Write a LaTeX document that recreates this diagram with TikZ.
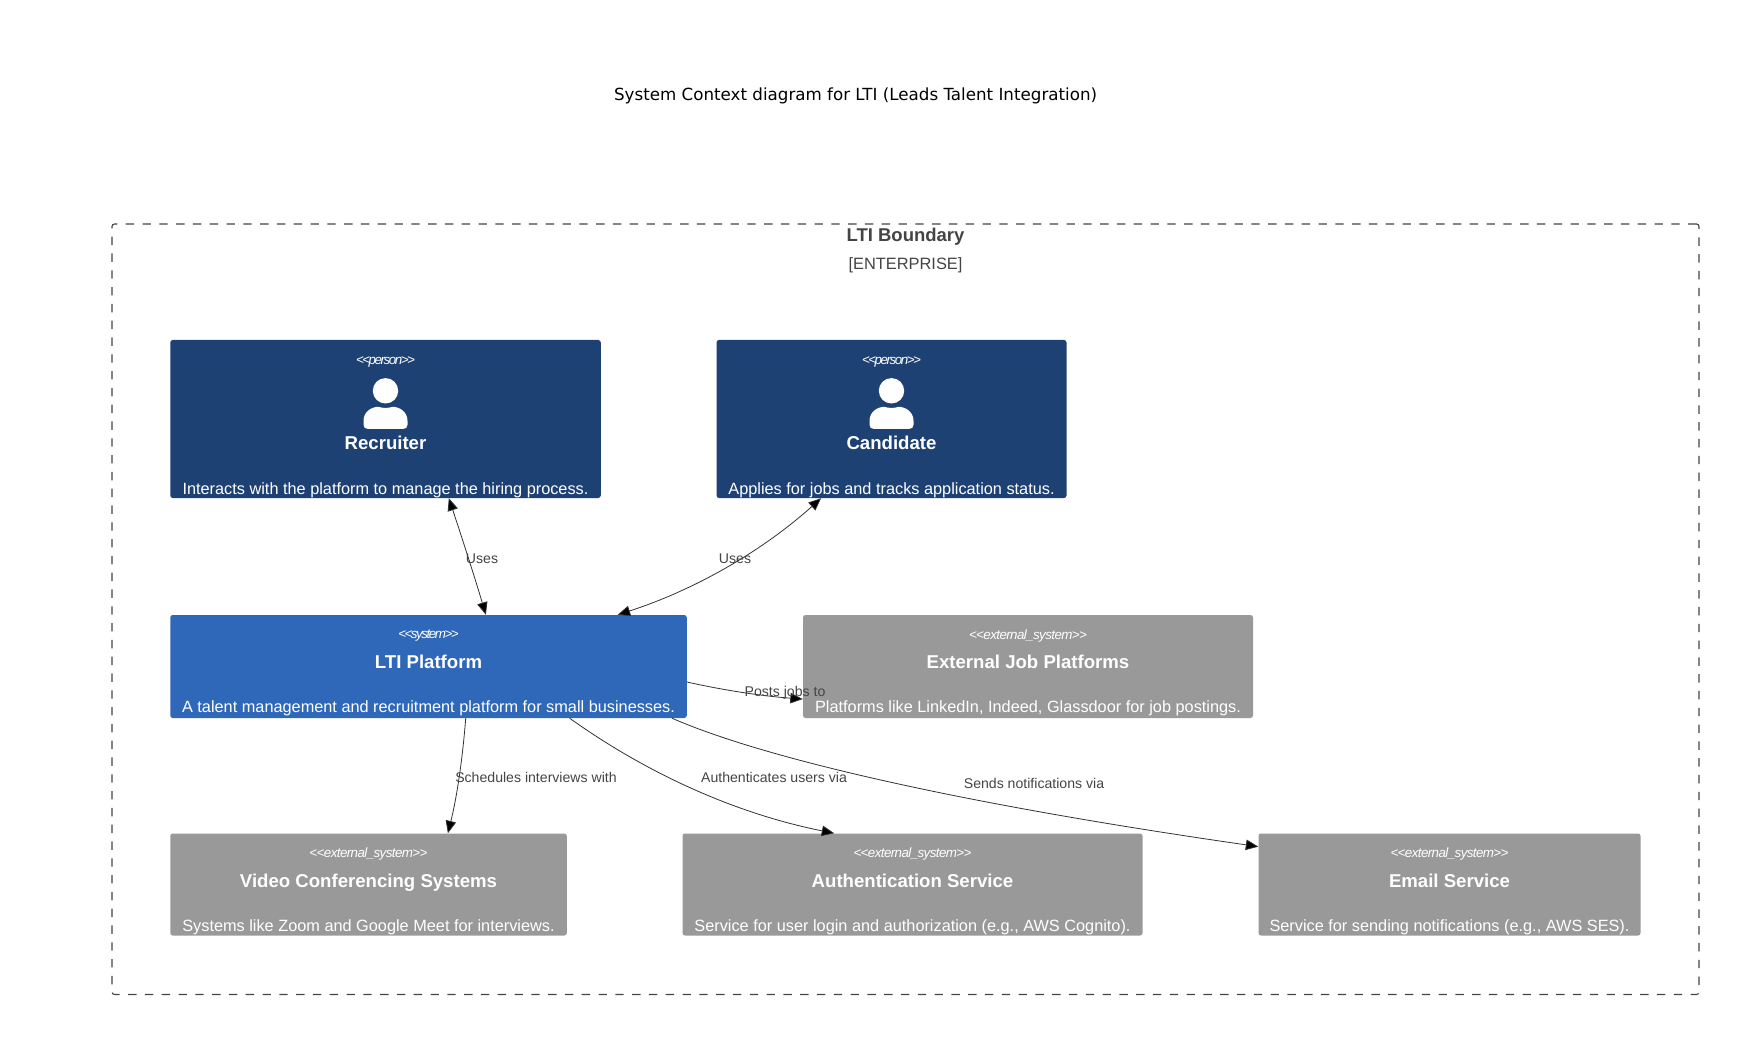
\documentclass[tikz,border=0pt]{standalone}
\usepackage{fontspec}
\setmainfont{Liberation Sans}
\newfontfamily\titlefont{DejaVu Sans}
\newfontfamily\stereofont[LetterSpace=-11.0]{Liberation Sans}
\newfontfamily\extstereofont[LetterSpace=-4.5]{Liberation Sans}
\usetikzlibrary{calc,arrows.meta}
\definecolor{personblue}{HTML}{1E4174}
\definecolor{systemblue}{HTML}{2F67B9}
\definecolor{extgray}{HTML}{999999}
\definecolor{inkgray}{HTML}{444444}
\tikzset{
  c4box/.style={rounded corners=2.5pt,inner sep=0pt,minimum height=102pt},
  personbox/.style={c4box,fill=personblue,minimum height=158pt},
  systembox/.style={c4box,fill=systemblue,minimum height=103pt},
  extbox/.style={c4box,fill=extgray},
  stereotext/.style={text=white,font=\stereofont\itshape\fontsize{13.4}{15}\selectfont},
  extstereotext/.style={text=white,font=\extstereofont\itshape\fontsize{13.4}{15}\selectfont},
  nametext/.style={text=white,font=\bfseries\fontsize{18.6}{21}\selectfont},
  desctext/.style={text=white,font=\fontsize{16.3}{19}\selectfont},
  reltext/.style={text=inkgray,font=\fontsize{14.1}{16}\selectfont},
  rel/.style={draw=black!80,line width=.8pt,-{Triangle[length=12.5pt,width=10.5pt,fill=black]}},
  birel/.style={rel,{Triangle[length=12.5pt,width=10.5pt,fill=black]}-{Triangle[length=12.5pt,width=10.5pt,fill=black]}},
  pics/personicon/.style={code={
    \fill[white] (0,0) circle (12.7);
    \fill[white] (-22,30) .. controls (-22,21) and (-14,16) .. (-7,16)
      .. controls (-4,17.5) and (4,17.5) .. (7,16)
      .. controls (14,16) and (22,21) .. (22,30) -- (22,34)
      .. controls (22,37) and (20,38) .. (18,38) -- (-18,38)
      .. controls (-20,38) and (-22,37) .. (-22,34) -- cycle;
  }}
}
\begin{document}
\begin{tikzpicture}[x=1pt,y=-1pt]
  \useasboundingbox (0,0) rectangle (1748,1064);
  \node[text=black,font=\titlefont\fontsize{16.7}{20}\selectfont] (title) at (855.6,95.5) {System Context diagram for LTI (Leads Talent Integration)};
  % boundary
  \node[draw=inkgray,line width=1.1pt,dash pattern=on 8.4pt off 8.4pt,rounded corners=2.5pt,inner sep=0pt,minimum width=1587pt,minimum height=770.5pt] (boundary) at (905.5,609.25) {};
  \node[text=inkgray,font=\bfseries\fontsize{18.5}{21}\selectfont] (boundaryname) at ($(boundary.north)+(0,13.5)$) {LTI Boundary};
  \node[text=inkgray,font=\fontsize{16.4}{19}\selectfont] (boundarytype) at ($(boundary.north)+(0,41.5)$) {[ENTERPRISE]};
  % people
  \node[personbox,minimum width=430.5pt] (recruiter) at (385.5,419) {};
  \node[stereotext] (recruiterstereo) at ($(recruiter.north)+(0,22)$) {<<person>>};
  \pic at ($(recruiter.north)+(0,51)$) {personicon};
  \node[nametext] (recruitername) at ($(recruiter.north)+(0,103.2)$) {Recruiter};
  \node[desctext] (recruiterdesc) at ($(recruiter.north)+(0,150)$) {Interacts with the platform to manage the hiring process.};
  \node[personbox,minimum width=350pt] (candidate) at (891.5,419) {};
  \node[stereotext] (candidatestereo) at ($(candidate.north)+(0,22)$) {<<person>>};
  \pic at ($(candidate.north)+(0,51)$) {personicon};
  \node[nametext] (candidatename) at ($(candidate.north)+(0,103.2)$) {Candidate};
  \node[desctext] (candidatedesc) at ($(candidate.north)+(0,150)$) {Applies for jobs and tracks application status.};
  % systems
  \node[systembox,minimum width=516.5pt] (lti) at (428.5,666.5) {};
  \node[stereotext] (ltistereo) at ($(lti.north)+(0,21)$) {<<system>>};
  \node[nametext] (ltiname) at ($(lti.north)+(0,47)$) {LTI Platform};
  \node[desctext] (ltidesc) at ($(lti.north)+(0,93.5)$) {A talent management and recruitment platform for small businesses.};
  \node[extbox,minimum width=450pt,minimum height=103pt] (jobs) at (1028,666.5) {};
  \node[extstereotext] (jobsstereo) at ($(jobs.north)+(0,21)$) {<<external\_system>>};
  \node[nametext] (jobsname) at ($(jobs.north)+(0,47)$) {External Job Platforms};
  \node[desctext] (jobsdesc) at ($(jobs.north)+(0,93.5)$) {Platforms like LinkedIn, Indeed, Glassdoor for job postings.};
  \node[extbox,minimum width=396.5pt] (video) at (368.5,884.5) {};
  \node[extstereotext] (videostereo) at ($(video.north)+(0,21)$) {<<external\_system>>};
  \node[nametext] (videoname) at ($(video.north)+(0,49)$) {Video Conferencing Systems};
  \node[desctext] (videodesc) at ($(video.north)+(0,93.5)$) {Systems like Zoom and Google Meet for interviews.};
  \node[extbox,minimum width=460pt] (auth) at (912.5,884.5) {};
  \node[extstereotext] (authstereo) at ($(auth.north)+(0,21)$) {<<external\_system>>};
  \node[nametext] (authname) at ($(auth.north)+(0,47.5)$) {Authentication Service};
  \node[desctext] (authdesc) at ($(auth.north)+(0,93.5)$) {Service for user login and authorization (e.g., AWS Cognito).};
  \node[extbox,minimum width=382pt] (email) at (1449.5,884.5) {};
  \node[extstereotext] (emailstereo) at ($(email.north)+(0,21)$) {<<external\_system>>};
  \node[nametext] (emailname) at ($(email.north)+(0,47.5)$) {Email Service};
  \node[desctext] (emaildesc) at ($(email.north)+(0,93.5)$) {Service for sending notifications (e.g., AWS SES).};
  % relations
  \draw[birel] ($(recruiter.south west)!.647!(recruiter.south east)$) .. controls (461.7,537) and (474,575) .. ($(lti.north west)!.611!(lti.north east)$);
  \draw[birel] ($(candidate.south west)!.299!(candidate.south east)$) .. controls (761.6,551.7) and (693.6,590.3) .. ($(lti.north west)!.866!(lti.north east)$);
  \draw[rel] ($(lti.north east)!.65!(lti.south east)$) .. controls (725.7,690.7) and (765,696.3) .. ($(jobs.north west)!.815!(jobs.south west)$);
  \draw[rel] ($(lti.south west)!.572!(lti.south east)$) .. controls (462.7,756.7) and (457.3,795.3) .. ($(video.north west)!.70!(video.north east)$);
  \draw[rel] ($(lti.south west)!.773!(lti.south east)$) .. controls (649.6,775.3) and (738,814) .. ($(auth.north west)!.33!(auth.north east)$);
  \draw[rel] ($(lti.south west)!.971!(lti.south east)$) .. controls (740,748) and (900,795) .. ($(email.north west)!.13!(email.south west)$);
  \node[reltext] (usesa) at (482,558.5) {Uses};
  \node[reltext] (usesb) at (735,558.5) {Uses};
  \node[reltext] (posts) at (785,692.8) {Posts jobs to};
  \node[reltext] (schedules) at (536,777.3) {Schedules interviews with};
  \node[reltext] (authenticates) at (774,777.3) {Authenticates users via};
  \node[reltext] (sends) at (1034,783.3) {Sends notifications via};
\end{tikzpicture}
\end{document}
